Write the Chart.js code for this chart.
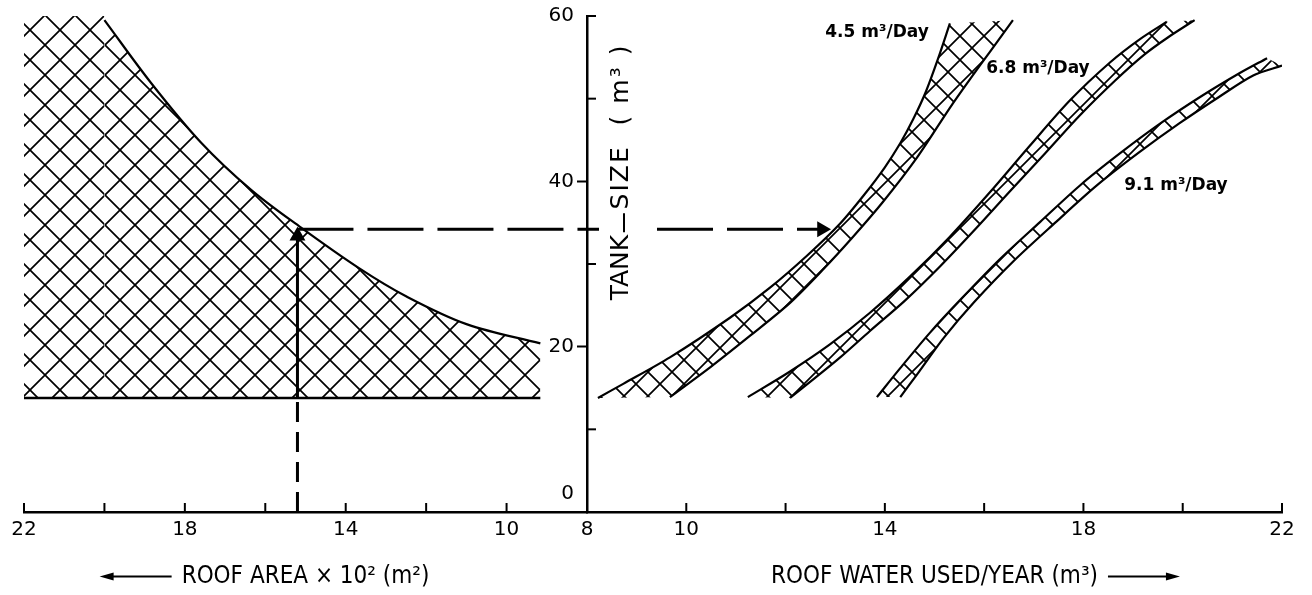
<!DOCTYPE html>
<html>
<head>
<meta charset="utf-8">
<script src="https://cdn.jsdelivr.net/npm/chart.js@4.4.1/dist/chart.umd.min.js"></script>
<style>
  body { margin: 0; background: #fff; }
  #wrap { position: relative; width: 1312px; height: 595px; }
  #roofCanvas { position: absolute; left: 0; top: 0; }
  #waterCanvas { position: absolute; left: 540px; top: 0; }
</style>
</head>
<body>
<div id="wrap">
  <canvas id="roofCanvas" width="600" height="595"></canvas>
  <canvas id="waterCanvas" width="772" height="595"></canvas>
</div>
<script>

// left panel: roof area (x 10^2 m2) against tank size (m3)
const roofArea = [20.0, 18.84, 17.6, 16.36, 15.11, 13.67, 12.5, 10.98, 9.16];
const roofTank = [59.5, 51.9, 44.7, 39.0, 34.4, 29.5, 26.1, 22.7, 20.4];
const roofTopX = [22, 20.0];     // hatched corner above the curve start
const roofTopY = [60, 60];
const roofFloor = 13.8;          // lower edge of the hatched area
const roofTicks = [22, 18, 14, 10, 8];

// right panel: roof water used per year (m3) against tank size, one band per demand
const band45UpperX = [8.22, 8.73, 9.67, 10.88, 11.68, 12.43, 13.10, 13.60, 14.00, 14.31, 14.57, 14.83, 15.07, 15.31];
const band45UpperY = [13.8, 15.5, 18.7, 23.5, 27.1, 31.0, 34.9, 38.5, 41.7, 44.6, 47.5, 50.9, 54.8, 59.1];
const band45LowerX = [9.67, 10.48, 11.28, 12.09, 12.75, 13.36, 13.96, 14.65, 15.31, 15.72, 16.12, 16.58];
const band45LowerY = [13.9, 17.5, 21.3, 25.3, 29.3, 33.3, 37.5, 42.9, 48.9, 52.4, 55.7, 59.5];

const band68UpperX = [11.24, 12.09, 12.90, 13.70, 14.51, 15.31, 16.12, 16.92, 17.73, 18.54, 19.14, 19.68];
const band68UpperY = [13.9, 17.0, 20.3, 24.1, 28.5, 33.3, 38.7, 44.3, 49.8, 54.4, 57.2, 59.3];
const band68LowerX = [12.09, 12.57, 13.10, 13.70, 14.41, 15.11, 15.82, 16.52, 17.23, 17.93, 18.64, 19.22, 19.70, 20.24];
const band68LowerY = [13.8, 16.1, 18.7, 21.9, 25.6, 29.7, 34.2, 38.8, 43.4, 48.0, 52.2, 55.3, 57.4, 59.5];

const band91UpperX = [13.84, 14.31, 14.91, 15.51, 16.32, 17.13, 17.93, 18.74, 19.55, 20.35, 21.15, 21.70];
const band91UpperY = [13.9, 17.4, 21.7, 25.6, 30.6, 35.1, 39.5, 43.4, 47.0, 50.2, 53.1, 54.9];
const band91LowerX = [14.31, 14.68, 15.19, 15.80, 16.60, 17.45, 18.27, 19.10, 19.93, 20.73, 21.42, 22.0];
const band91LowerY = [13.9, 16.9, 21.1, 25.4, 30.4, 35.1, 39.5, 43.4, 47.0, 50.2, 52.8, 54.0];

const bandLabels = ['4.5 m³/Day', '6.8 m³/Day', '9.1 m³/Day'];
const bandLabelX = [12.80, 16.04, 18.82];
const bandLabelY = [58.0, 53.7, 39.5];

const waterTicks = [10, 14, 18, 22];
const tankTicks = [20, 40, 60];   // "0" sits just above the bottom axis, drawn separately

// worked example: 15.2 x 10^2 m2 roof -> 34.2 m3 tank -> 4.5 m3/day band
const exampleRoof = 15.2;
const exampleTank = 34.2;
const exampleWater = 12.73;

// ---- helpers ----
const pts = (xs, ys) => xs.map((x, i) => ({x: x, y: ys[i]}));

function makeHatch(size, lw) {
    const c = document.createElement('canvas');
    c.width = size; c.height = size;
    const g = c.getContext('2d');
    g.strokeStyle = '#000';
    g.lineWidth = lw;
    g.beginPath();
    g.moveTo(-2, -2); g.lineTo(size + 2, size + 2);
    g.moveTo(size + 2, -2); g.lineTo(-2, size + 2);
    g.stroke();
    return g.createPattern(c, 'repeat');
}
const hatchL = makeHatch(30, 1.7);
const hatchR = makeHatch(24, 1.7);

Chart.defaults.color = '#000';
const tickFont = {family: "'DejaVu Sans', sans-serif", size: 20};
const titleFont = {family: "'DejaVu Sans Condensed', 'DejaVu Sans', sans-serif", size: 24};
const labelFont = "bold 17px 'DejaVu Sans', sans-serif";

function line(data, extra) {
    return Object.assign({data: data, borderColor: '#000', borderWidth: 2.2, pointRadius: 0, fill: false, tension: 0}, extra || {});
}

// ticks pointing up from the bottom axis
function upTicks(chart) {
    const {ctx, chartArea} = chart;
    const x = chart.scales.x;
    ctx.save();
    ctx.strokeStyle = '#000';
    ctx.lineWidth = 2;
    x.ticks.forEach(t => {
        if (t.value === 8) return;
        const px = x.getPixelForValue(t.value);
        ctx.beginPath();
        ctx.moveTo(px, chartArea.bottom);
        ctx.lineTo(px, chartArea.bottom - 9);
        ctx.stroke();
    });
    ctx.restore();
}

// arrow next to the axis title
function titleArrow(chart, dir) {
    const {ctx} = chart;
    const x = chart.scales.x;
    const t = x.options.title;
    const f = Chart.helpers.toFont(t.font);
    ctx.save();
    ctx.font = f.string;
    const w = ctx.measureText(t.text).width;
    const cx = (x.left + x.right) / 2;
    const cy = x.bottom - f.lineHeight / 2 - t.padding.bottom;
    const x0 = dir < 0 ? cx - w / 2 - 10 : cx + w / 2 + 10;
    const x1 = x0 + dir * 72;
    ctx.strokeStyle = '#000';
    ctx.fillStyle = '#000';
    ctx.lineWidth = 2;
    ctx.beginPath(); ctx.moveTo(x0, cy); ctx.lineTo(x1 - dir * 8, cy); ctx.stroke();
    ctx.beginPath();
    ctx.moveTo(x1, cy);
    ctx.lineTo(x1 - dir * 14, cy - 4);
    ctx.lineTo(x1 - dir * 14, cy + 4);
    ctx.closePath(); ctx.fill();
    ctx.restore();
}

const baseOptions = {
    responsive: false,
    animation: false,
    events: [],
    plugins: {legend: {display: false}, tooltip: {enabled: false}},
    elements: {point: {radius: 0}}
};

// ---- left chart: roof area ----
new Chart(document.getElementById('roofCanvas'), {
    type: 'line',
    data: {
        datasets: [
            line(pts(roofTopX, roofTopY), {borderWidth: 0, fill: {value: roofFloor}, backgroundColor: hatchL}),
            line(pts(roofArea, roofTank), {fill: {value: roofFloor}, backgroundColor: hatchL, tension: 0.35}),
            line([{x: roofTopX[0], y: roofFloor}, {x: roofArea[roofArea.length - 1], y: roofFloor}], {borderWidth: 2.5}),
            line([{x: exampleRoof, y: exampleTank}, {x: 8, y: exampleTank}], {borderWidth: 3, borderDash: [56, 14]}),
            line([{x: exampleRoof, y: 0}, {x: exampleRoof, y: roofFloor}], {borderWidth: 3, borderDash: [20, 10]}),
            line([{x: exampleRoof, y: roofFloor}, {x: exampleRoof, y: exampleTank - 1}], {borderWidth: 3}),
            line([{x: exampleRoof, y: exampleTank - 0.8}], {showLine: false, pointStyle: 'triangle', pointRadius: 7,
                pointBackgroundColor: '#000', pointBorderColor: '#000', rotation: 0})
        ]
    },
    options: Object.assign({}, baseOptions, {
        layout: {padding: {left: 24, right: 13, top: 16, bottom: 0}},
        scales: {
            x: {
                type: 'linear', reverse: true, min: 8, max: 22,
                ticks: {stepSize: 2, autoSkip: false, maxRotation: 0, padding: 6, font: tickFont, color: '#000',
                    callback: v => roofTicks.includes(v) ? v : ''},
                grid: {display: true, drawOnChartArea: false, drawTicks: false},
                border: {display: true, color: '#000', width: 2.5},
                title: {display: true, text: 'ROOF AREA × 10² (m²)', font: titleFont, color: '#000', padding: {top: 0, bottom: 4}},
                afterFit: s => { s.height = 83; }
            },
            y: {type: 'linear', min: 0, max: 60, display: false}
        }
    }),
    plugins: [{
        id: 'roofDecor',
        afterDraw(chart) {
            upTicks(chart);
            titleArrow(chart, -1);
        }
    }]
});

// ---- right chart: roof water used per year ----
function band(ux, uy, lx, ly) {
    const poly = pts(ux, uy).concat(pts(lx, ly).reverse());
    return [
        line(poly, {borderWidth: 0, fill: 'shape', backgroundColor: hatchR}),
        line(pts(ux, uy), {tension: 0.3}),
        line(pts(lx, ly), {tension: 0.3})
    ];
}

new Chart(document.getElementById('waterCanvas'), {
    type: 'line',
    data: {
        datasets: [].concat(
            band(band45UpperX, band45UpperY, band45LowerX, band45LowerY),
            band(band68UpperX, band68UpperY, band68LowerX, band68LowerY),
            band(band91UpperX, band91UpperY, band91LowerX, band91LowerY),
            [
                line([{x: 8, y: exampleTank}, {x: exampleWater, y: exampleTank}], {borderWidth: 3, borderDash: [56, 14]}),
                line([{x: exampleWater, y: exampleTank}], {showLine: false, pointStyle: 'triangle', pointRadius: 7,
                    pointBackgroundColor: '#000', pointBorderColor: '#000', rotation: 90})
            ]
        )
    },
    options: Object.assign({}, baseOptions, {
        layout: {padding: {left: 0, right: 30, top: 16, bottom: 0}},
        scales: {
            x: {
                type: 'linear', min: 8, max: 22,
                ticks: {stepSize: 2, autoSkip: false, maxRotation: 0, padding: 6, font: tickFont, color: '#000',
                    callback: v => waterTicks.includes(v) ? v : ''},
                grid: {display: true, drawOnChartArea: false, drawTicks: false},
                border: {display: true, color: '#000', width: 2.5},
                title: {display: true, text: 'ROOF WATER USED/YEAR (m³)', font: titleFont, color: '#000', padding: {top: 0, bottom: 4}},
                afterFit: s => { s.height = 83; }
            },
            y: {
                type: 'linear', min: 0, max: 60,
                ticks: {stepSize: 10, autoSkip: false, padding: 3, font: tickFont, color: '#000',
                    callback: v => tankTicks.includes(v) ? v : ''},
                grid: {display: true, drawOnChartArea: false, drawTicks: true, tickLength: 10, tickWidth: 2,
                    tickColor: c => (c.tick && (c.tick.value === 20 || c.tick.value === 40)) ? '#000' : 'transparent'},
                border: {display: true, color: '#000', width: 2.5},
                afterFit: s => { s.width = 47; }
            }
        }
    }),
    plugins: [{
        id: 'waterDecor',
        afterDraw(chart) {
            const {ctx, chartArea} = chart;
            const x = chart.scales.x, y = chart.scales.y;
            upTicks(chart);
            titleArrow(chart, 1);

            ctx.save();
            // zero label, raised above the bottom axis
            ctx.fillStyle = '#000';
            ctx.font = "20px 'DejaVu Sans', sans-serif";
            ctx.textAlign = 'right';
            ctx.textBaseline = 'middle';
            ctx.fillText('0', chartArea.left - 13, y.getPixelForValue(0) - 18);

            // short ticks on the right of the tank axis
            ctx.strokeStyle = '#000';
            ctx.lineWidth = 2;
            [10, 30, 50, 60].forEach(v => {
                const py = y.getPixelForValue(v);
                ctx.beginPath();
                ctx.moveTo(chartArea.left, py);
                ctx.lineTo(chartArea.left + 9, py);
                ctx.stroke();
            });

            // tank size title, written up the axis
            const col = chartArea.left + 34;
            const ey = y.getPixelForValue(exampleTank);
            ctx.fillStyle = '#fff';
            ctx.fillRect(chartArea.left + 12, ey - 5, 44, 10);
            ctx.lineWidth = 2;
            ctx.beginPath();
            ctx.moveTo(col + 3, ey - 16);
            ctx.lineTo(col + 3, ey + 3);
            ctx.stroke();
            ctx.fillStyle = '#000';
            ctx.font = "25px 'DejaVu Sans', sans-serif";
            ctx.textAlign = 'left';
            ctx.save();
            ctx.translate(col, y.getPixelForValue(25.6));
            ctx.rotate(-Math.PI / 2);
            ctx.fillText('TANK', 0, 0);
            ctx.restore();
            ctx.save();
            ctx.translate(col, y.getPixelForValue(36.6));
            ctx.rotate(-Math.PI / 2);
            ctx.letterSpacing = '2px';
            ctx.fillText('SIZE  ( m³ )', 0, 0);
            ctx.letterSpacing = '0px';
            ctx.restore();

            // demand labels
            ctx.font = labelFont;
            bandLabels.forEach((txt, i) => {
                ctx.fillText(txt, x.getPixelForValue(bandLabelX[i]), y.getPixelForValue(bandLabelY[i]));
            });
            ctx.restore();
        }
    }]
});
</script>
</body>
</html>
